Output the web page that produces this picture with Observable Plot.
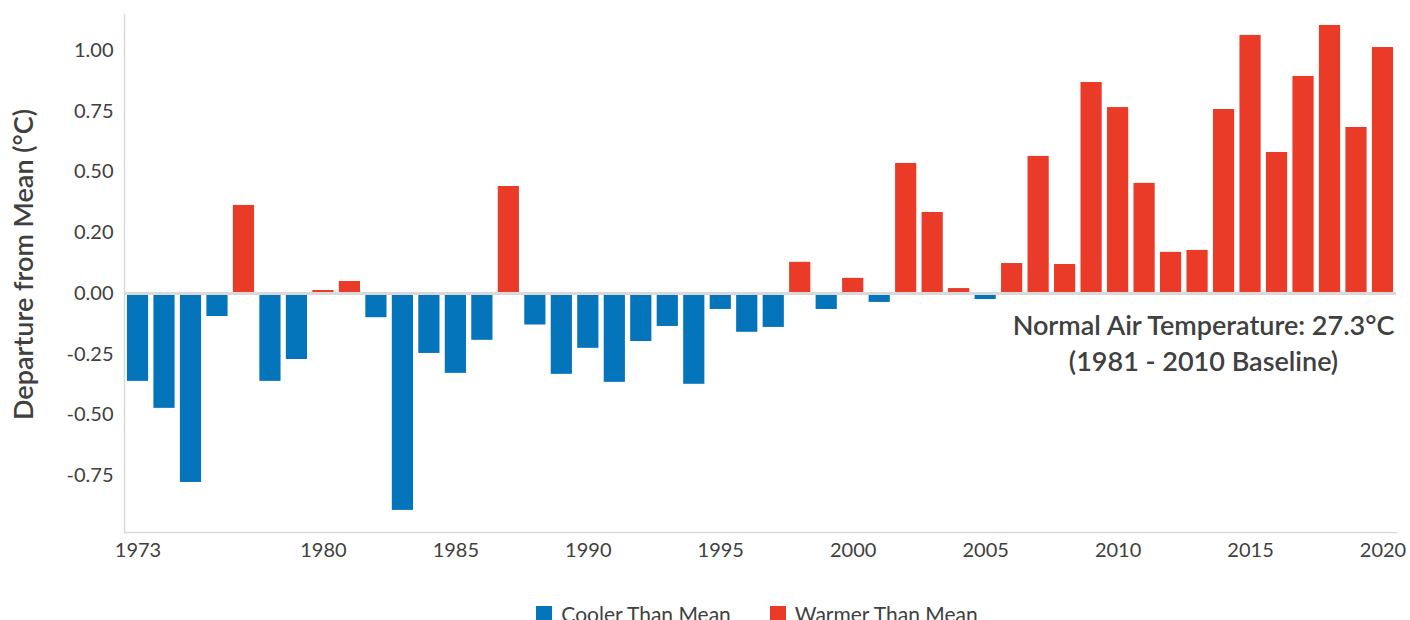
<!DOCTYPE html>
<html>
<head>
<meta charset="utf-8">
<script src="https://cdn.jsdelivr.net/npm/d3@7"></script>
<script src="https://cdn.jsdelivr.net/npm/@observablehq/plot@0.6"></script>
<style>
  html, body { margin: 0; padding: 0; background: #fff; }
  body { width: 1410px; height: 620px; overflow: hidden; font-family: Lato, "Noto Sans", sans-serif; }
  #legend { display: flex; justify-content: center; gap: 39px; padding-left: 124px; padding-right: 20px;
            margin-top: 22px; font-size: 21px; color: #404040; line-height: 24px; }
  #legend span.item { display: flex; align-items: center; }
  #legend span.sw { display: inline-block; width: 16px; height: 16px; margin-right: 9px; }
</style>
</head>
<body>
<div id="chart"></div>
<div id="legend"></div>
<script>
const years = d3.range(1973, 2021);
const anomalies = [
  -0.362, -0.473, -0.778, -0.095, 0.362, -0.362, -0.272, 0.012, 0.049, -0.100,
  -0.893, -0.247, -0.329, -0.193, 0.440, -0.130, -0.333, -0.226, -0.366, -0.198,
  -0.136, -0.374, -0.066, -0.160, -0.140, 0.128, -0.066, 0.062, -0.037, 0.535,
  0.333, 0.020, -0.025, 0.123, 0.564, 0.119, 0.868, 0.765, 0.453, 0.169,
  0.177, 0.757, 1.062, 0.580, 0.893, 1.103, 0.683, 1.012
];
const yTicks = [-0.75, -0.5, -0.25, 0, 0.25, 0.5, 0.75, 1.0];
const yTickLabels = ["-0.75", "-0.50", "-0.25", "0.00", "0.20", "0.50", "0.75", "1.00"];
const xTicks = [1973, 1980, 1985, 1990, 1995, 2000, 2005, 2010, 2015, 2020];
const seriesNames = ["Cooler Than Mean", "Warmer Than Mean"];
const seriesColors = ["#0474bb", "#e93b28"];
const yTitle = "Departure from Mean (°C)";
const note = "Normal Air Temperature: 27.3°C\n(1981 - 2010 Baseline)";

const data = years.map((year, i) => ({
  year, value: anomalies[i],
  kind: anomalies[i] < 0 ? seriesNames[0] : seriesNames[1]
}));

const textColor = "#404040";
const plot = Plot.plot({
  width: 1410,
  height: 580,
  marginTop: 14,
  marginBottom: 48,
  marginLeft: 124,
  marginRight: 14,
  style: { fontFamily: "Lato, 'Noto Sans', sans-serif", color: textColor, background: "#fff" },
  x: { type: "band", domain: years, paddingInner: 0.2, paddingOuter: 0.11, align: 0.5, round: false },
  y: { domain: [-0.984, 1.148] },
  color: { domain: seriesNames, range: seriesColors },
  marks: [
    Plot.barY(data, { x: "year", y: "value", fill: "kind" }),
    Plot.ruleY([0], { stroke: "#d9d9d9", strokeWidth: 3 }),
    Plot.frame({ anchor: "left", stroke: "#d9d9d9", strokeWidth: 1.5 }),
    Plot.frame({ anchor: "bottom", stroke: "#d9d9d9", strokeWidth: 1.5 }),
    Plot.axisY({ ticks: yTicks, tickSize: 0, tickPadding: 11, fontSize: 20, label: null,
                 tickFormat: (d) => yTickLabels[yTicks.indexOf(d)] }),
    Plot.axisX({ ticks: xTicks, tickSize: 0, tickPadding: 10, fontSize: 20, label: null,
                 tickFormat: (d) => String(d) }),
    Plot.text([yTitle], { text: (d) => d, frameAnchor: "left", textAnchor: "middle", rotate: -90,
                          dx: -100, dy: -9, fontSize: 27, fontWeight: 600, fill: textColor }),
    Plot.text([note], { text: (d) => d, frameAnchor: "right", dx: -193, dy: 68, textAnchor: "middle",
                        fontSize: 27, fontWeight: 600, lineHeight: 1.34, fill: textColor })
  ]
});
document.getElementById("chart").appendChild(plot);

const legend = document.getElementById("legend");
seriesNames.forEach((name, i) => {
  const item = document.createElement("span");
  item.className = "item";
  const sw = document.createElement("span");
  sw.className = "sw";
  sw.style.background = seriesColors[i];
  item.appendChild(sw);
  item.appendChild(document.createTextNode(name));
  legend.appendChild(item);
});
</script>
</body>
</html>
